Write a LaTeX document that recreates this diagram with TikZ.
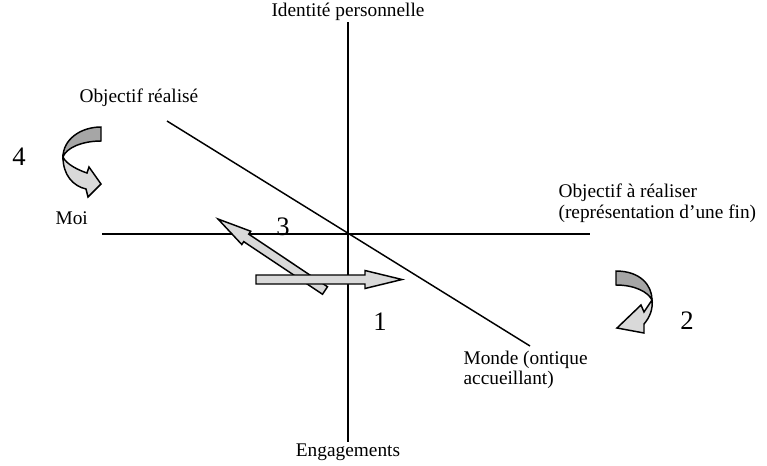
\documentclass[tikz,border=0pt]{standalone}
\usepackage{fontspec}
\setmainfont{Liberation Serif}
\definecolor{bandlight}{HTML}{D9D9D9}
\definecolor{banddark}{HTML}{A6A6A6}
% block arrow: tail x, tail y, angle, length, head length, head half width
\newcommand{\blockarr}[6]{%
  \draw[barrow, shift={(#1,#2)}, rotate=#3]
    (0,-4.5) -- ({#4-#5},-4.5) -- ({#4-#5},-#6) -- (#4,0)
    -- ({#4-#5},#6) -- ({#4-#5},4.5) -- (0,4.5) -- cycle;}
\begin{document}
\begin{tikzpicture}[x=0.75pt, y=-0.75pt]
        \tikzstyle{lbl} = [inner sep=1pt, font=\fontsize{14.5}{15.5}\selectfont]
        \tikzstyle{num} = [inner sep=1pt, font=\fontsize{20}{22}\selectfont]
        \tikzstyle{axis} = [line width=1.1pt]
        \tikzstyle{barrow} = [line width=1.1pt, fill=bandlight, line join=miter]
        \useasboundingbox (0,0) rectangle (767,465);

        \node[lbl] (idp) at (348,12) {Identité personnelle};
        \node[lbl] (eng) at (348,452) {Engagements};
        \node[lbl, anchor=west] (objr) at (78,98) {Objectif réalisé};
        \node[lbl, anchor=west] (moi) at (54,218) {Moi};
        \node[lbl, anchor=west, align=left] (obja) at (557,203) {Objectif à réaliser\\(représentation d’une fin)};
        \node[lbl, anchor=west, align=left] (monde) at (462,370) {Monde (ontique\\accueillant)};

        \node[num] (n4) at (19,157) {4};
        \node[num] (n3) at (283,227) {3};
        \node[num] (n1) at (380,322) {1};
        \node[num] (n2) at (687,321) {2};

        \coordinate (hl) at (102,234);
        \coordinate (hr) at (590,234);
        \coordinate (dl) at (167,121);
        \coordinate (dr) at (530,346);

        \draw[axis] (idp) -- (eng);
        \draw[axis] (hl) -- (hr);
        \draw[axis] (dl) -- (dr);

        % straight arrows
        \blockarr{325}{290.5}{146.25}{128.7}{34}{8}
        \blockarr{256}{279.5}{0}{146}{37}{9}

        % curved arrow near 4
        \draw[barrow] (63,157) .. controls (66,164) and (78,170) .. (87,173)
          -- (89,167) -- (101,184) -- (88,197) -- (86,189)
          .. controls (73,186) and (63,175) .. (63,157) -- cycle;
        \draw[barrow, fill=banddark] (101,127) .. controls (80,127) and (63,140) .. (63,157)
          .. controls (66,148) and (82,141) .. (101,141) -- cycle;

        % curved arrow near 2
        \draw[barrow] (652,300) -- (644,312) -- (641,305) -- (617,328)
          -- (644,333) -- (644,324) .. controls (650,317) and (653,309) .. (652,300) -- cycle;
        \draw[barrow, fill=banddark] (616,271) .. controls (640,271) and (652,285) .. (652,300)
          .. controls (648,292) and (635,285) .. (616,285) -- cycle;
\end{tikzpicture}
\end{document}
